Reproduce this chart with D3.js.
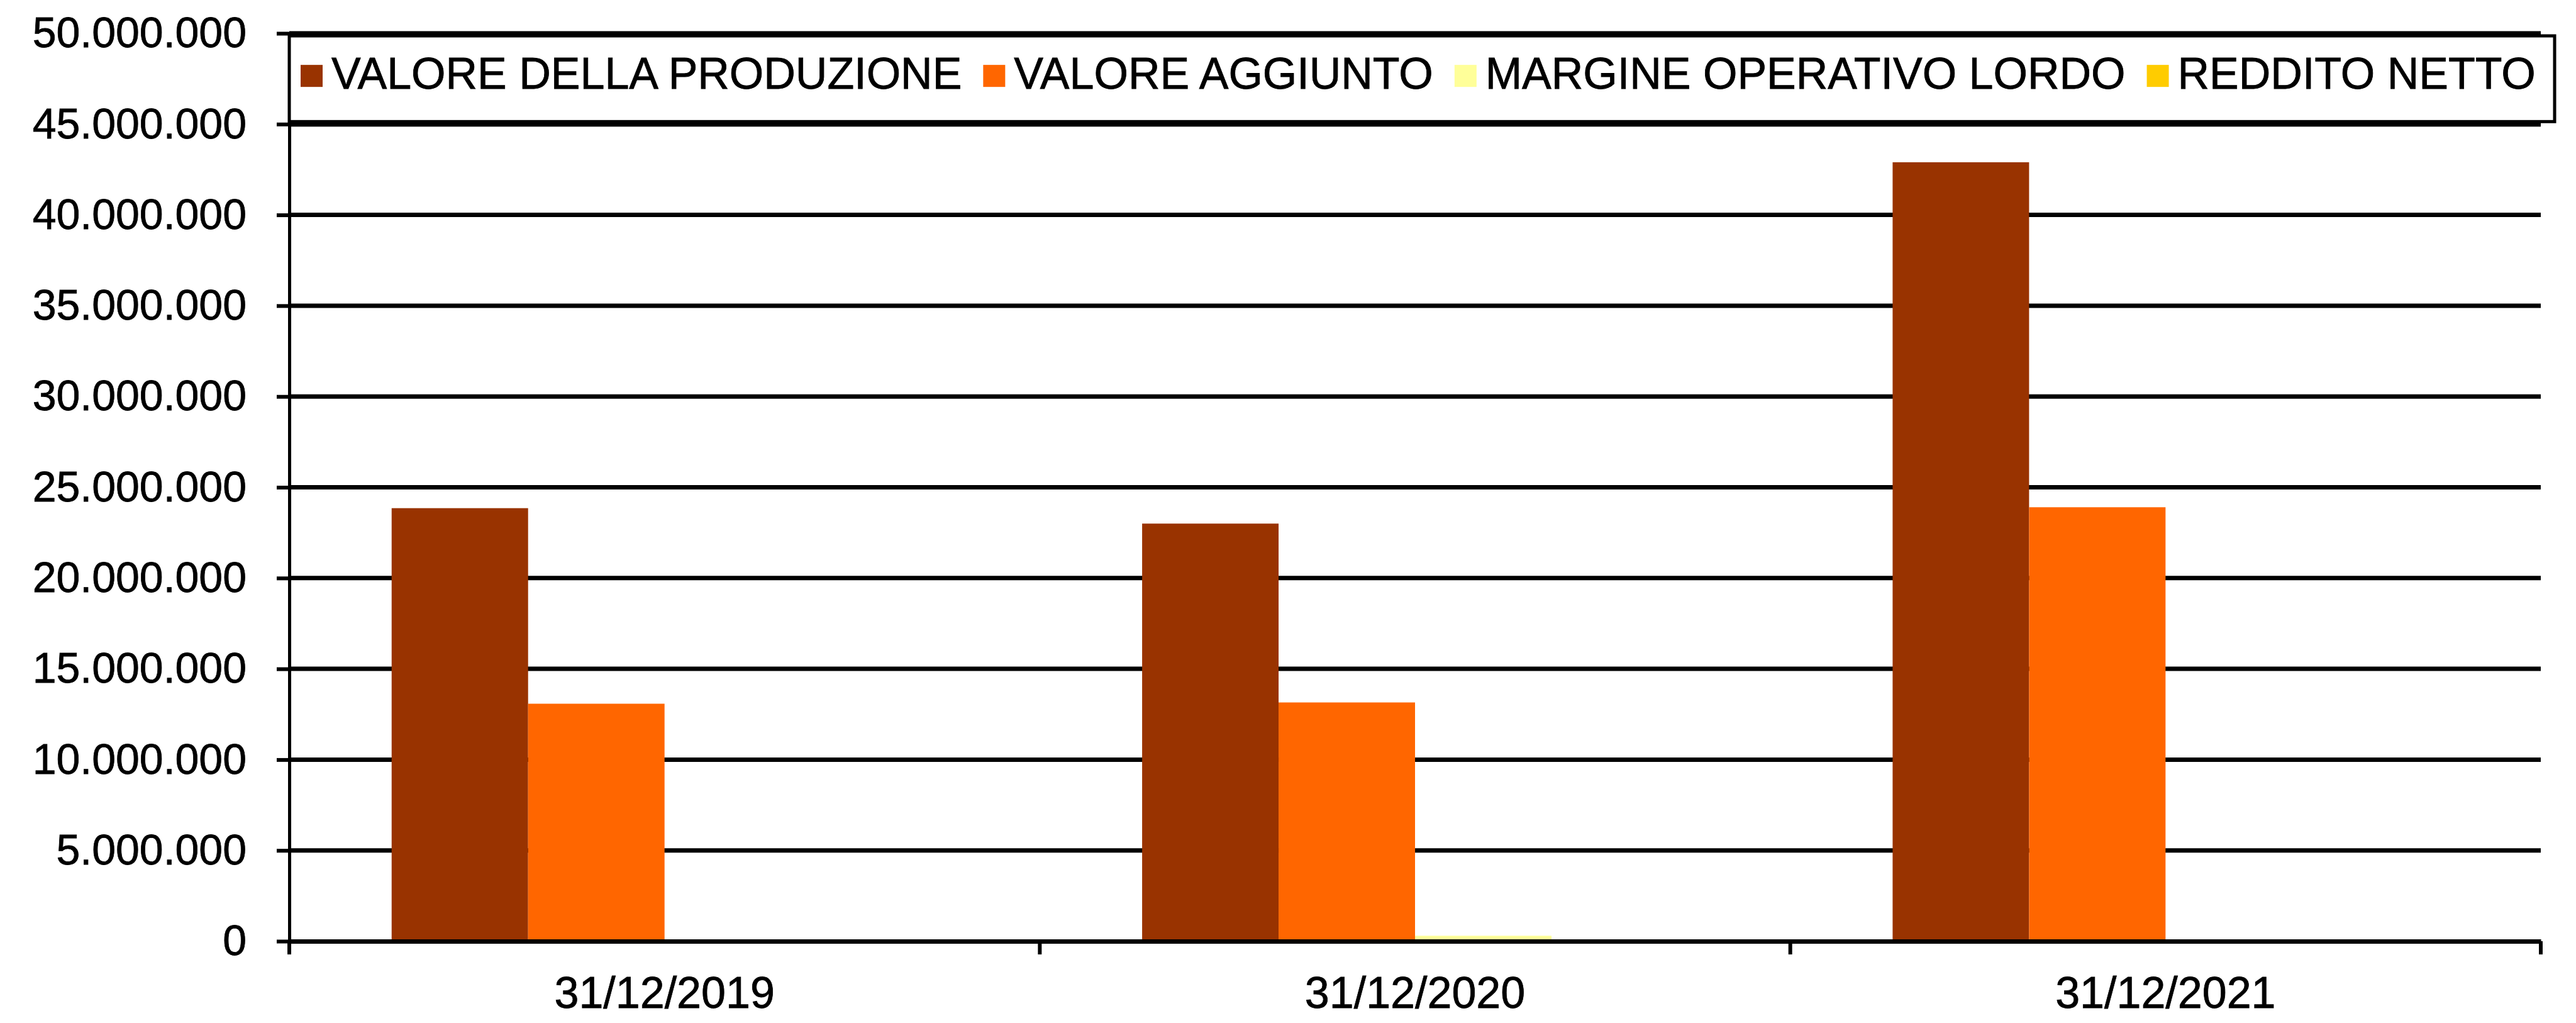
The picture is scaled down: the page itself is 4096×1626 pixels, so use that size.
<!DOCTYPE html>
<html>
<head>
<meta charset="utf-8">
<script src="https://cdn.jsdelivr.net/npm/d3@7"></script>
<style>
  body { margin: 0; background: #fff; }
  text { font-family: "Liberation Sans", Arial, sans-serif; fill: #000; stroke: #000; stroke-width: 0.8px; }
</style>
</head>
<body>
<div id="chart"></div>
<script>
var width = 4096;
var height = 1626;

// data
var categories = ["31/12/2019", "31/12/2020", "31/12/2021"];
var seriesNames = ["VALORE DELLA PRODUZIONE", "VALORE AGGIUNTO", "MARGINE OPERATIVO LORDO", "REDDITO NETTO"];
var seriesColors = ["#993300", "#FF6600", "#FFFF99", "#FFCC00"];
var valoreProduzione = [23850000, 23000000, 42900000];
var valoreAggiunto = [13080000, 13150000, 23900000];
var margineOperativoLordo = [0, 300000, 0];
var redditoNetto = [0, 0, 0];
var yTickValues = [0, 5000000, 10000000, 15000000, 20000000, 25000000, 30000000, 35000000, 40000000, 45000000, 50000000];

var seriesValues = [valoreProduzione, valoreAggiunto, margineOperativoLordo, redditoNetto];

var it = d3.formatLocale({decimal: ",", thousands: ".", grouping: [3], currency: ["€", ""]});
var fmt = it.format(",d");

var plot = {left: 460, right: 4040, top: 53, bottom: 1496};

var svg = d3.select("#chart")
    .append("svg")
    .attr("width", width)
    .attr("height", height);

var x = d3.scaleBand()
    .domain(categories)
    .range([plot.left, plot.right])
    .paddingInner(0)
    .paddingOuter(0);

// excel gap width 150%: 4 bars + 1.5 bar of gap per category
var x1 = d3.scaleBand()
    .domain(seriesNames)
    .range([0, x.bandwidth()])
    .paddingInner(0)
    .paddingOuter(0.75);

var y = d3.scaleLinear()
    .domain([0, 50000000])
    .range([plot.bottom, plot.top]);

// gridlines
svg.append("g")
    .selectAll("line")
    .data(yTickValues.filter(function (d) { return d > 0; }))
    .enter().append("line")
    .attr("x1", plot.left)
    .attr("x2", plot.right)
    .attr("y1", function (d) { return y(d); })
    .attr("y2", function (d) { return y(d); })
    .attr("stroke", "#000")
    .attr("stroke-width", 7);

// bars
var groups = svg.append("g")
    .selectAll("g")
    .data(categories)
    .enter().append("g")
    .attr("transform", function (d) { return "translate(" + x(d) + ",0)"; });

groups.selectAll("rect")
    .data(function (d, i) {
        return seriesNames.map(function (s, j) { return {name: s, value: seriesValues[j][i], color: seriesColors[j]}; });
    })
    .enter().append("rect")
    .attr("x", function (d) { return x1(d.name); })
    .attr("width", x1.bandwidth())
    .attr("y", function (d) { return y(d.value); })
    .attr("height", function (d) { return y(0) - y(d.value); })
    .attr("fill", function (d) { return d.color; });

// y axis
var yAxis = svg.append("g")
    .attr("transform", "translate(" + plot.left + ",0)")
    .call(d3.axisLeft(y).tickValues(yTickValues).tickFormat(fmt).tickSize(20).tickPadding(48).tickSizeOuter(0));
yAxis.selectAll("text").style("font-size", "68px").attr("font-family", null);
yAxis.selectAll("line").attr("stroke-width", 6);
yAxis.select(".domain").attr("stroke-width", 5);

// x axis (labels centred, ticks on category boundaries)
var xAxis = svg.append("g")
    .attr("transform", "translate(0," + plot.bottom + ")")
    .call(d3.axisBottom(x).tickSize(0).tickPadding(56).tickSizeOuter(0));
xAxis.selectAll("text").style("font-size", "70px").attr("font-family", null);
xAxis.select(".domain").attr("stroke-width", 7);

var bounds = categories.map(function (c) { return x(c); }).concat([x(categories[categories.length - 1]) + x.bandwidth()]);
xAxis.selectAll(".bound")
    .data(bounds)
    .enter().append("line")
    .attr("class", "bound")
    .attr("x1", function (d) { return d; })
    .attr("x2", function (d) { return d; })
    .attr("y1", 0)
    .attr("y2", 21)
    .attr("stroke", "#000")
    .attr("stroke-width", 6);

// legend, sitting between the 50M and 45M gridlines
var lgTop = y(50000000) + 4;
var lgBottom = y(45000000) - 4;
var legend = svg.append("g");

legend.append("rect")
    .attr("x", plot.left)
    .attr("y", lgTop + 8)
    .attr("width", plot.right - plot.left)
    .attr("height", lgBottom - lgTop)
    .attr("fill", "#000");

legend.append("rect")
    .attr("x", plot.left)
    .attr("y", lgTop)
    .attr("width", 4062 - plot.left)
    .attr("height", lgBottom - lgTop)
    .attr("fill", "#fff")
    .attr("stroke", "#000")
    .attr("stroke-width", 5);

var lgMid = (lgTop + lgBottom) / 2;
var cursor = 478;
seriesNames.forEach(function (name, i) {
    legend.append("rect")
        .attr("x", cursor)
        .attr("y", lgMid - 22)
        .attr("width", 35)
        .attr("height", 35)
        .attr("fill", seriesColors[i]);
    var t = legend.append("text")
        .attr("x", cursor + 49)
        .attr("y", lgMid + 16)
        .style("font-size", "70px")
        .text(name);
    cursor = cursor + 49 + t.node().getComputedTextLength() + 34;
});
</script>
</body>
</html>
